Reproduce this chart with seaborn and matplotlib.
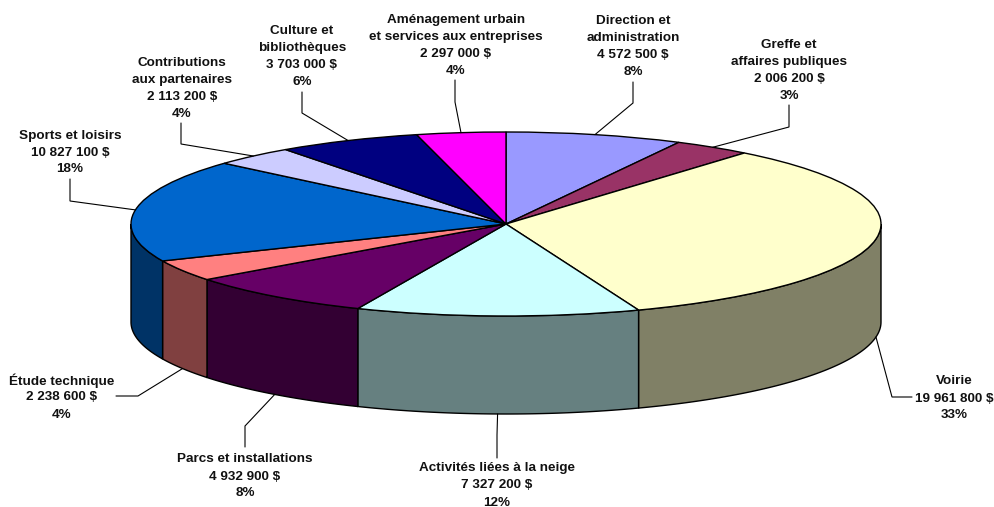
import numpy as np
import seaborn as sns
import matplotlib.pyplot as plt
from matplotlib.colors import to_rgb

# Data, clockwise from the top of the pie
names = ['Direction et\nadministration', 'Greffe et\naffaires publiques', 'Voirie',
         'Activités liées à la neige', 'Parcs et installations', 'Étude technique',
         'Sports et loisirs', 'Contributions\naux partenaires', 'Culture et\nbibliothèques',
         'Aménagement urbain\net services aux entreprises']
amounts = [4572500, 2006200, 19961800, 7327200, 4932900, 2238600, 10827100, 2113200, 3703000, 2297000]
percents = [8, 3, 33, 12, 8, 4, 18, 4, 6, 4]
hex_colors = ['#9999FF', '#993366', '#FFFFCC', '#CCFFFF', '#660066',
              '#FF8080', '#0066CC', '#CCCCFF', '#000080', '#FF00FF']

sns.set_theme(style='white')
plt.rcParams['font.family'] = ['Liberation Sans', 'DejaVu Sans']
palette = sns.color_palette(hex_colors)

# Layout of the tilted pie, in pixels
W, H = 995, 507
CX, CY, RX, RY, DEPTH = 506, 224, 375, 92, 98
LINE_PITCH = 17

# Label centre and leader path (label end, elbow), one per slice
label_pos = [(633, 45), (789, 69), (954, 397), (497, 484), (245, 475),
             (62, 396), (70, 151), (182, 87), (302, 55), (456, 44)]
leader_pts = [((633, 82), (633, 103)), ((789, 105), (789, 127)), ((912, 397), (892, 397)),
              ((497, 458), (497, 435)), ((245, 447), (245, 426)), ((116, 396), (138, 396)),
              ((70, 179), (70, 201)), ((181, 123), (181, 144)), ((302, 92), (302, 113)),
              ((455, 80), (455, 102))]

fig = plt.figure(figsize=(W / 100, H / 100), dpi=100)
ax = fig.add_axes([0, 0, 1, 1])

# Axes in pie units, so the unit circle becomes the ellipse
ax.pie(amounts, colors=palette, startangle=90, counterclock=False, radius=1,
       wedgeprops=dict(edgecolor='black', linewidth=1.0, zorder=3))
ax.set_aspect('auto')
ax.set_xlim(-CX / RX, (W - CX) / RX)
ax.set_ylim((CY - H) / RY, CY / RY)
ax.axis('off')

# Slice limits as angles clockwise from the top
fracs = np.array(amounts) / sum(amounts)
edges = np.concatenate([[0], np.cumsum(fracs)]) * 2 * np.pi
depth_u = DEPTH / RY

# Side wall: only the front half of the rim shows
for i, col in enumerate(palette):
    a0, a1 = max(edges[i], np.pi / 2), min(edges[i + 1], 3 * np.pi / 2)
    if a0 >= a1:
        continue
    t = np.linspace(a0, a1, 80)
    xs = np.sin(t)
    ys = np.cos(t)
    ax.fill(np.r_[xs, xs[::-1]], np.r_[ys, ys[::-1] - depth_u],
            facecolor=np.array(to_rgb(col)) * 0.5, edgecolor='black', linewidth=1.0, zorder=2)

# Overlay in pixels for the labels and leaders
ov = fig.add_axes([0, 0, 1, 1], facecolor='none')
ov.set_xlim(0, W)
ov.set_ylim(H, 0)
ov.axis('off')

for i, name in enumerate(names):
    mid = (edges[i] + edges[i + 1]) / 2
    px = CX + RX * np.sin(mid)
    py = CY - RY * np.cos(mid)
    if np.cos(mid) < 0:
        py += DEPTH
    (x0, y0), (x1, y1) = leader_pts[i]
    ov.plot([x0, x1, px], [y0, y1, py], color='black', linewidth=0.8, solid_joinstyle='miter')
    amount = f'{amounts[i]:,}'.replace(',', ' ')
    # One text per line, the pitch is too uneven with linespacing
    lines = name.split('\n') + [f'{amount} $', f'{percents[i]}%']
    for j, line in enumerate(lines):
        y = label_pos[i][1] + (j - (len(lines) - 1) / 2) * LINE_PITCH
        ov.text(label_pos[i][0], y, line, ha='center', va='center_baseline',
                fontsize=9.7, fontweight='bold', color='#111111')

fig.savefig('out.png', dpi=100)
